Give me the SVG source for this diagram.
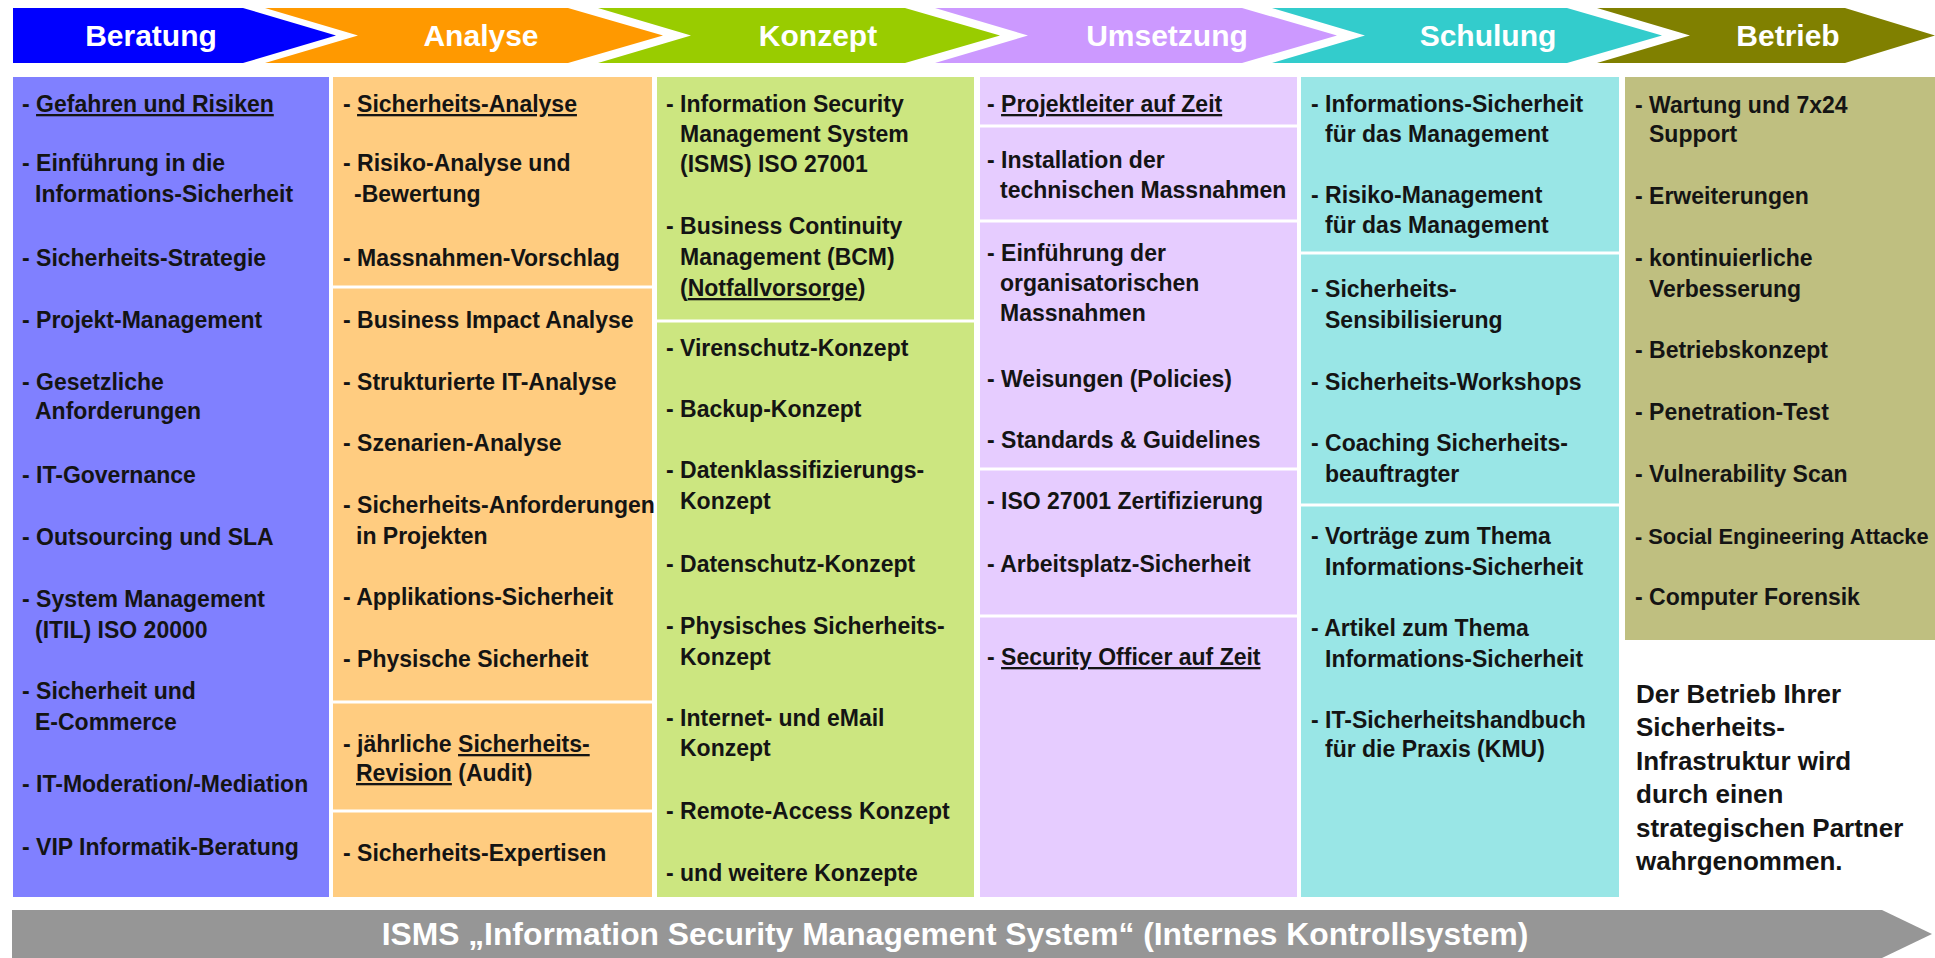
<svg xmlns="http://www.w3.org/2000/svg" width="1935" height="958" viewBox="0 0 1935 958">
<style>
.h{font-family:"Liberation Sans",Arial,sans-serif;font-weight:bold;font-size:30px;fill:#fff;text-anchor:middle}
.t{font-family:"Liberation Sans",Arial,sans-serif;font-weight:bold;font-size:23px;fill:#141414}
.n{font-family:"Liberation Sans",Arial,sans-serif;font-weight:bold;font-size:26px;fill:#141414}
.u{text-decoration:underline}
.sep{stroke:#fff;stroke-width:3}
.b{font-family:"Liberation Sans",Arial,sans-serif;font-weight:bold;font-size:31.8px;fill:#fff;text-anchor:middle}
</style>
<rect width="1935" height="958" fill="#fff"/>

<g id="beratung">
<path d="M13,8 H243 L336,35.5 L243,63 H13 Z" fill="#0000FF"/>
<text class="h" x="151" y="46">Beratung</text>
<rect x="13" y="77" width="316" height="820" fill="#8080FF"/>
<g class="t">
<text x="22" y="112">- <tspan class="u">Gefahren und Risiken</tspan></text>
<text x="22" y="171">- Einführung in die</text>
<text x="35" y="202">Informations-Sicherheit</text>
<text x="22" y="266">- Sicherheits-Strategie</text>
<text x="22" y="328">- Projekt-Management</text>
<text x="22" y="390">- Gesetzliche</text>
<text x="35" y="419">Anforderungen</text>
<text x="22" y="483">- IT-Governance</text>
<text x="22" y="545">- Outsourcing und SLA</text>
<text x="22" y="607">- System Management</text>
<text x="35" y="638">(ITIL) ISO 20000</text>
<text x="22" y="699">- Sicherheit und</text>
<text x="35" y="730">E-Commerce</text>
<text x="22" y="792">- IT-Moderation/-Mediation</text>
<text x="22" y="855">- VIP Informatik-Beratung</text>
</g>
</g>

<g id="analyse">
<path d="M265,8 H568 L663,35.5 L568,63 H265 L358,35.5 Z" fill="#FF9900"/>
<text class="h" x="481" y="46">Analyse</text>
<rect x="333" y="77" width="319" height="820" fill="#FFCC80"/>
<line class="sep" x1="333" y1="287" x2="652" y2="287"/>
<line class="sep" x1="333" y1="702" x2="652" y2="702"/>
<line class="sep" x1="333" y1="811" x2="652" y2="811"/>
<g class="t">
<text x="343" y="112">- <tspan class="u">Sicherheits-Analyse</tspan></text>
<text x="343" y="171">- Risiko-Analyse und</text>
<text x="354" y="202">-Bewertung</text>
<text x="343" y="266">- Massnahmen-Vorschlag</text>
<text x="343" y="328">- Business Impact Analyse</text>
<text x="343" y="390">- Strukturierte IT-Analyse</text>
<text x="343" y="451">- Szenarien-Analyse</text>
<text x="343" y="513">- Sicherheits-Anforderungen</text>
<text x="356" y="544">in Projekten</text>
<text x="343" y="605">- Applikations-Sicherheit</text>
<text x="343" y="667">- Physische Sicherheit</text>
<text x="343" y="752">- jährliche <tspan class="u">Sicherheits-</tspan></text>
<text x="356" y="781"><tspan class="u">Revision</tspan>  (Audit)</text>
<text x="343" y="861">- Sicherheits-Expertisen</text>
</g>
</g>

<g id="konzept">
<path d="M598,8 H905 L1000,35.5 L905,63 H598 L691,35.5 Z" fill="#99CC00"/>
<text class="h" x="818" y="46">Konzept</text>
<rect x="657" y="77" width="317" height="820" fill="#CCE680"/>
<line class="sep" x1="657" y1="321" x2="974" y2="321"/>
<g class="t">
<text x="666" y="112">- Information Security</text>
<text x="680" y="142">Management System</text>
<text x="680" y="172">(ISMS) ISO 27001</text>
<text x="666" y="234">- Business Continuity</text>
<text x="680" y="265">Management (BCM)</text>
<text x="680" y="296">(<tspan class="u">Notfallvorsorge</tspan>)</text>
<text x="666" y="356">- Virenschutz-Konzept</text>
<text x="666" y="417">- Backup-Konzept</text>
<text x="666" y="478">- Datenklassifizierungs-</text>
<text x="680" y="509">Konzept</text>
<text x="666" y="572">- Datenschutz-Konzept</text>
<text x="666" y="634">- Physisches Sicherheits-</text>
<text x="680" y="665">Konzept</text>
<text x="666" y="726">- Internet- und eMail</text>
<text x="680" y="756">Konzept</text>
<text x="666" y="819">- Remote-Access Konzept</text>
<text x="666" y="881">- und weitere Konzepte</text>
</g>
</g>

<g id="umsetzung">
<path d="M935,8 H1242 L1337,35.5 L1242,63 H935 L1028,35.5 Z" fill="#CC99FF"/>
<text class="h" x="1167" y="46">Umsetzung</text>
<rect x="980" y="77" width="317" height="820" fill="#E6CCFF"/>
<line class="sep" x1="980" y1="126" x2="1297" y2="126"/>
<line class="sep" x1="980" y1="221" x2="1297" y2="221"/>
<line class="sep" x1="980" y1="469" x2="1297" y2="469"/>
<line class="sep" x1="980" y1="616" x2="1297" y2="616"/>
<g class="t">
<text x="987" y="112">- <tspan class="u">Projektleiter auf Zeit</tspan></text>
<text x="987" y="168">- Installation der</text>
<text x="1000" y="198">technischen Massnahmen</text>
<text x="987" y="261">- Einführung der</text>
<text x="1000" y="291">organisatorischen</text>
<text x="1000" y="321">Massnahmen</text>
<text x="987" y="387">- Weisungen (Policies)</text>
<text x="987" y="448">- Standards &amp; Guidelines</text>
<text x="987" y="509">- ISO 27001 Zertifizierung</text>
<text x="987" y="572">- Arbeitsplatz-Sicherheit</text>
<text x="987" y="665">- <tspan class="u">Security Officer auf Zeit</tspan></text>
</g>
</g>

<g id="schulung">
<path d="M1272,8 H1567 L1662,35.5 L1567,63 H1272 L1365,35.5 Z" fill="#33CCCC"/>
<text class="h" x="1488" y="46">Schulung</text>
<rect x="1301" y="77" width="318" height="820" fill="#99E6E6"/>
<line class="sep" x1="1301" y1="253" x2="1619" y2="253"/>
<line class="sep" x1="1301" y1="505" x2="1619" y2="505"/>
<g class="t">
<text x="1311" y="112">- Informations-Sicherheit</text>
<text x="1325" y="142">für das Management</text>
<text x="1311" y="203">- Risiko-Management</text>
<text x="1325" y="233">für das Management</text>
<text x="1311" y="297">- Sicherheits-</text>
<text x="1325" y="328">Sensibilisierung</text>
<text x="1311" y="390">- Sicherheits-Workshops</text>
<text x="1311" y="451">- Coaching Sicherheits-</text>
<text x="1325" y="482">beauftragter</text>
<text x="1311" y="544">- Vorträge zum Thema</text>
<text x="1325" y="575">Informations-Sicherheit</text>
<text x="1311" y="636">- Artikel zum Thema</text>
<text x="1325" y="667">Informations-Sicherheit</text>
<text x="1311" y="728">- IT-Sicherheitshandbuch</text>
<text x="1325" y="757">für die Praxis (KMU)</text>
</g>
</g>

<g id="betrieb">
<path d="M1597,8 H1845 L1935,35.5 L1845,63 H1597 L1690,35.5 Z" fill="#808000"/>
<text class="h" x="1788" y="46">Betrieb</text>
<rect x="1625" y="77" width="310" height="563" fill="#BFBF80"/>
<g class="t">
<text x="1635" y="113">- Wartung und 7x24</text>
<text x="1649" y="142">Support</text>
<text x="1635" y="204">- Erweiterungen</text>
<text x="1635" y="266">- kontinuierliche</text>
<text x="1649" y="297">Verbesserung</text>
<text x="1635" y="358">- Betriebskonzept</text>
<text x="1635" y="420">- Penetration-Test</text>
<text x="1635" y="482">- Vulnerability Scan</text>
<text x="1635" y="544" style="font-size:21.8px">- Social Engineering Attacke</text>
<text x="1635" y="605">- Computer Forensik</text>
</g>
<g class="n">
<text x="1636" y="703">Der Betrieb Ihrer</text>
<text x="1636" y="736">Sicherheits-</text>
<text x="1636" y="770">Infrastruktur wird</text>
<text x="1636" y="803">durch einen</text>
<text x="1636" y="837">strategischen Partner</text>
<text x="1636" y="870">wahrgenommen.</text>
</g>
</g>

<g id="isms">
<path d="M12,910 H1882 L1932,934 L1882,958 H12 Z" fill="#969696"/>
<text class="b" x="955" y="945">ISMS „Information Security Management System“ (Internes Kontrollsystem)</text>
</g>

<g id="connectors"/>
</svg>
